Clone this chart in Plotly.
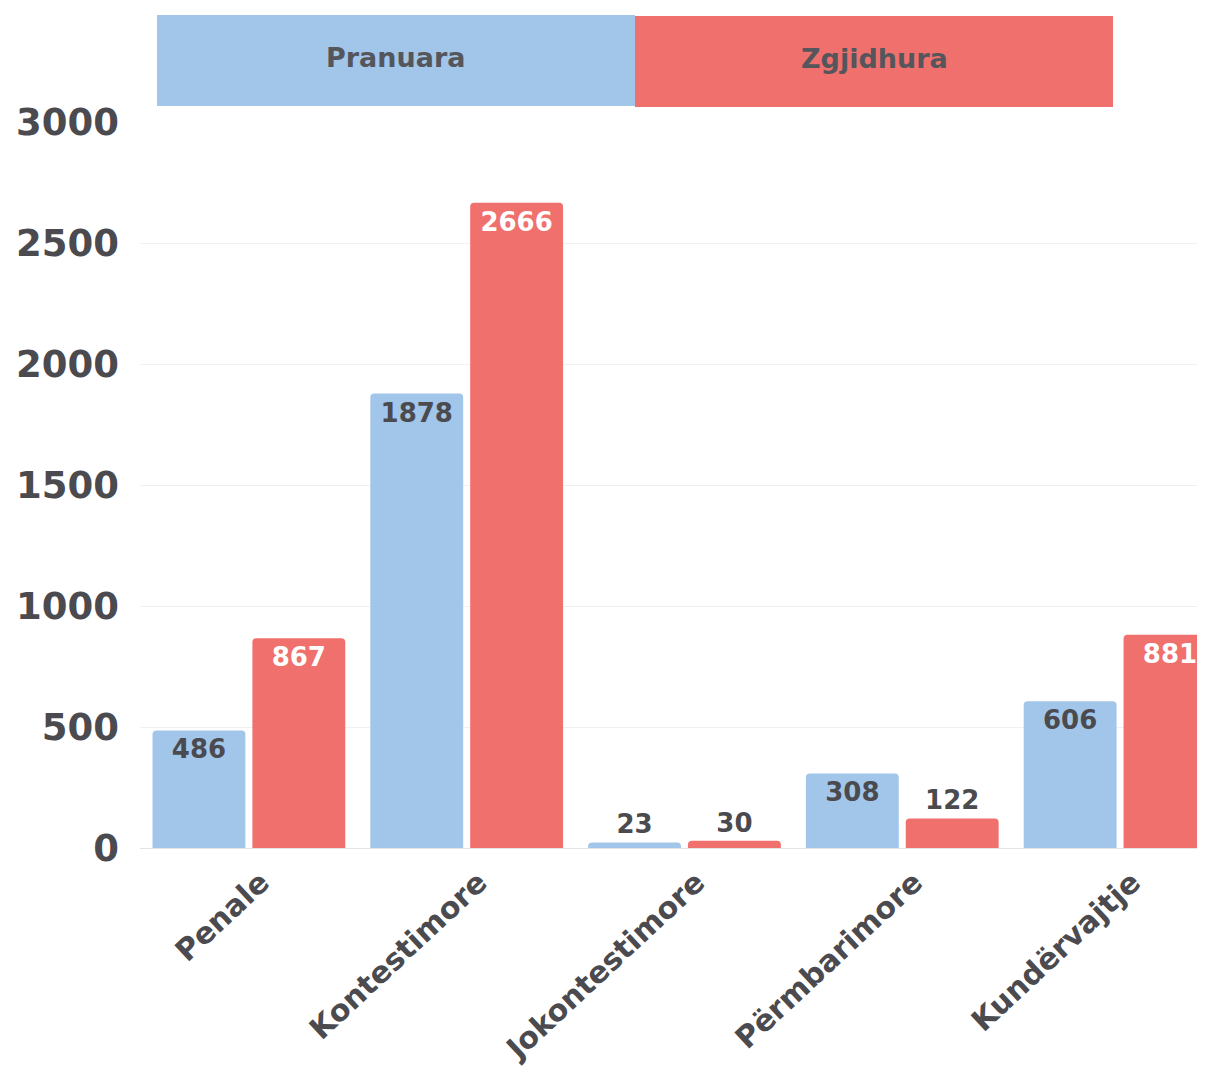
import plotly.graph_objects as go

categories = ["Penale", "Kontestimore", "Jokontestimore", "Përmbarimore", "Kundërvajtje"]
pranuara = [486, 1878, 23, 308, 606]
zgjidhura = [867, 2666, 30, 122, 881]
series_names = ["Pranuara", "Zgjidhura"]
y_ticks = [0, 500, 1000, 1500, 2000, 2500, 3000]

BLUE = "#a2c5ea"
RED = "#f0706d"
DARK = "#4a4a4f"
FONT = "DejaVu Sans"

OFF = 8  # page body margin
W, H = 1205 - OFF, 1078 - 2 * OFF
ML, MR, MT = 140 - OFF, 0, 122 - OFF
MB = H - (848 - OFF)

def positions(vals):
    return ["inside" if v > 200 else "outside" for v in vals]

fig = go.Figure()
fig.add_trace(go.Bar(
    x=categories, y=pranuara, name=series_names[0],
    marker=dict(color=BLUE, line=dict(width=0)),
    text=[str(v) for v in pranuara], textposition=positions(pranuara),
    insidetextanchor="end", textangle=0,
    insidetextfont=dict(color=DARK, size=26, family=FONT, weight="bold"),
    outsidetextfont=dict(color=DARK, size=26, family=FONT, weight="bold"),
    cliponaxis=True,
))
fig.add_trace(go.Bar(
    x=categories, y=zgjidhura, name=series_names[1],
    marker=dict(color=RED, line=dict(width=0)),
    text=[str(v) for v in zgjidhura], textposition=positions(zgjidhura),
    insidetextanchor="end", textangle=0,
    insidetextfont=dict(color="white", size=26, family=FONT, weight="bold"),
    outsidetextfont=dict(color=DARK, size=26, family=FONT, weight="bold"),
    cliponaxis=True,
))

plot_w = W - ML - MR
plot_h = H - MT - MB

# page pixel -> paper coords
def px_x(px):
    return (px - OFF - ML) / plot_w

def px_y(py):
    return (H - MB - (py - OFF)) / plot_h

boxes = [(157, 635, 15, 106, BLUE, series_names[0]),
         (635, 1113, 16, 107, RED, series_names[1])]
shapes = []
annotations = []
for x0, x1, y0, y1, col, name in boxes:
    shapes.append(dict(type="rect", xref="paper", yref="paper",
                       x0=px_x(x0), x1=px_x(x1), y0=px_y(y1), y1=px_y(y0),
                       fillcolor=col, line=dict(width=0), layer="above"))
    annotations.append(dict(xref="paper", yref="paper",
                            x=px_x((x0 + x1) / 2), y=px_y((y0 + y1) / 2 - 3),
                            text=name, showarrow=False,
                            font=dict(size=27, color="#55565c", family=FONT, weight="bold"),
                            xanchor="center", yanchor="middle"))

fig.update_layout(
    width=W, height=H,
    margin=dict(l=ML, r=MR, t=MT, b=MB, pad=0, autoexpand=False),
    paper_bgcolor="white", plot_bgcolor="white",
    barmode="group", bargap=0.083, bargroupgap=0.07,
    barcornerradius=4,
    showlegend=False,
    shapes=shapes, annotations=annotations,
    xaxis=dict(
        range=[-0.5, 4.39], tickangle=-43, automargin=False,
        tickfont=dict(size=30, color=DARK, family=FONT, weight="bold"),
        showgrid=False, showline=False, ticks="", zeroline=False,
        ticklabelshift=12, ticklabelstandoff=10,
    ),
    yaxis=dict(
        range=[0, 3000], tickvals=y_ticks, automargin=False,
        tickfont=dict(size=37, color=DARK, family=FONT, weight="bold"),
        showgrid=True, gridcolor="#f0f0f0", gridwidth=1,
        zeroline=True, zerolinecolor="#e4e4e4", zerolinewidth=1,
        showline=False, ticks="", ticklabelstandoff=20,
    ),
)

fig.write_html("out.html")
